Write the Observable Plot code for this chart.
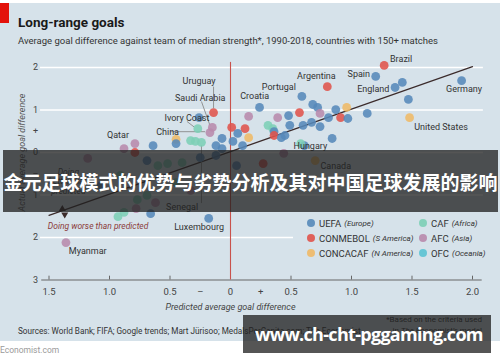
<!DOCTYPE html>
<html><head><meta charset="utf-8">
<script src="https://cdn.jsdelivr.net/npm/d3@7"></script>
<script src="https://cdn.jsdelivr.net/npm/@observablehq/plot@0.6"></script>
<style>
body{margin:0;background:#fff;}
#wrap{position:relative;width:500px;height:362px;overflow:hidden;font-family:Roboto,"Open Sans",sans-serif;color:#222;}
#bg{position:absolute;left:0;top:3px;width:500px;height:338px;background:#d6e2ea;}
#chart{position:absolute;left:0;top:0;}
.abs{position:absolute;line-height:1;white-space:nowrap;}
#redbox{position:absolute;left:0;top:3px;width:9px;height:20px;background:#e3120b;}
#title{left:18px;top:15.7px;font-size:13.5px;font-weight:bold;color:#1a1a1a;}
#subtitle{left:18px;top:36px;font-size:9.5px;color:#333;}
#sources{left:18px;top:327.3px;font-size:8.2px;color:#333;}
.foot{right:18px;font-size:8px;color:#333;text-align:right;}
#econ{left:0;top:345.9px;font-size:8.5px;color:#9a9a9a;}
#legendbox{position:absolute;left:293px;top:213px;width:195px;height:50px;background:#d6e2ea;}
.leg{position:absolute;height:12px;display:flex;align-items:center;font-size:9.5px;color:#333;white-space:nowrap;}
.leg i{font-size:8px;margin-left:3px;}
.sw{width:8px;height:8px;border-radius:50%;margin-right:4px;opacity:.9;}
.band{position:absolute;background:rgba(32,32,32,0.76);color:#fff;font-weight:bold;display:flex;align-items:center;white-space:nowrap;}
#band1{left:3px;top:150px;width:495px;height:62px;justify-content:center;font-family:"Noto Sans CJK SC",sans-serif;font-size:19px;}
#band2{left:243px;top:315px;width:248px;height:38px;font-family:"Open Sans",sans-serif;font-size:18px;letter-spacing:-0.7px;padding-left:12px;box-sizing:border-box;}
</style></head><body>
<div id="wrap">
  <div id="bg"></div>
  <div id="redbox"></div>
  <div id="chart"></div>
  <div class="abs" id="title">Long-range goals</div>
  <div class="abs" id="subtitle">Average goal difference against team of median strength*, 1990-2018, countries with 150+ matches</div>
  <div id="legendbox"></div>
  <div id="legend"></div>
  <div class="abs" id="sources">Sources: World Bank; FIFA; Google trends; Mart Jürisoo; MedalsPerCapita.com; The Economist</div>
  <div class="abs foot" style="top:316.3px">*Based on the criteria used</div>
  <div class="abs foot" style="top:327.3px">in <i>The Economist’s</i> model</div>
  <div class="abs" id="econ">Economist.com</div>
  <div class="band" id="band1">金元足球模式的优势与劣势分析及其对中国足球发展的影响</div>
  <div class="band" id="band2">www.ch-cht-pggaming.com</div>
</div>
<script>
// ---- Data ----
const conferences = ["UEFA","CONMEBOL","CONCACAF","CAF","AFC","OFC"];
const confRegions = ["Europe","S America","N America","Africa","Asia","Oceania"];
const confColors = ["#5689b9","#e0534b","#efb967","#7dcfb6","#b88aac","#5bc3d3"];

const teamNames = ["Brazil","Spain","England","","Germany","Argentina","Portugal","Croatia","","United States",
 "Uruguay","Ivory Coast","","Saudi Arabia","China","Hungary","","Canada","Myanmar","Luxembourg",
 "","","","","","","","","","",
 "","","","","","","","","","",
 "","","","","","","","","","",
 "","","","Senegal","","","","","Qatar","",
 "","","","","","","","","","",
 "","","","","","","","","","",
 "","",""];
const predicted = [1.27,1.20,1.36,1.42,1.91,0.80,0.59,0.24,1.47,1.48,
 -0.14,-0.27,-0.26,-0.15,-0.17,0.61,0.58,0.70,-1.36,-0.18,
 0.68,0.72,0.74,0.87,0.96,0.91,0.97,1.13,0.57,0.39,
 0.48,0.15,0.01,0.12,0.15,0.06,0.02,0.10,0.31,0.35,
 0.36,0.36,0.42,0.45,0.49,0.60,0.67,0.81,0.74,0.84,
 -0.07,-0.33,-0.29,-0.24,-0.45,-0.45,-0.64,-0.79,-0.88,-0.79,
 -0.12,-0.07,-1.18,-0.69,-0.60,-0.52,-0.40,-0.25,-0.12,0.27,
 0.44,0.05,-0.77,-0.69,-0.62,-1.07,-0.91,-0.45,-0.33,-0.78,
 -0.88,-0.93,-0.66];
const actual = [2.05,1.79,1.53,1.65,1.69,1.55,1.32,1.06,1.25,0.82,
 0.94,0.56,0.82,0.59,0.47,0.16,0.21,-0.19,-2.12,-1.55,
 1.13,1.06,0.92,1.01,1.06,0.82,0.80,0.92,0.94,0.82,
 0.87,0.85,0.59,0.56,0.35,0.45,0.26,0.16,0.64,0.56,
 0.49,0.40,0.35,0.40,0.64,0.64,0.71,0.82,0.61,0.33,
 0.09,0.28,0.26,0.24,0.31,0.21,0.16,0.21,0.09,0.00,
 0.16,0.33,-0.14,-0.19,-0.31,-0.26,-0.24,-0.12,-0.07,-0.26,
 -0.02,-0.31,-1.11,-1.01,-1.18,-0.78,-0.54,-0.71,-0.89,-1.32,
 -1.41,-1.51,-1.44];
const confOf = ["CONMEBOL","UEFA","UEFA","UEFA","UEFA","CONMEBOL","UEFA","UEFA","UEFA","CONCACAF",
 "CONMEBOL","CAF","UEFA","AFC","AFC","UEFA","CAF","CONCACAF","AFC","UEFA",
 "UEFA","UEFA","AFC","UEFA","CONCACAF","CONMEBOL","UEFA","UEFA","CONMEBOL","AFC",
 "UEFA","AFC","CONMEBOL","CONMEBOL","CONCACAF","UEFA","UEFA","UEFA","CAF","CAF",
 "UEFA","CONMEBOL","UEFA","UEFA","UEFA","UEFA","UEFA","UEFA","UEFA","UEFA",
 "UEFA","CAF","CAF","CAF","CONCACAF","UEFA","UEFA","AFC","AFC","CONMEBOL",
 "UEFA","UEFA","AFC","UEFA","CAF","CAF","CAF","UEFA","UEFA","CONMEBOL",
 "AFC","UEFA","CAF","CAF","AFC","UEFA","CAF","CAF","AFC","AFC",
 "CAF","CAF","UEFA"];

const labelText = ["Brazil","Spain","Argentina","Portugal","England","Germany","Croatia","United States","Uruguay",
 "Saudi Arabia","Ivory Coast","China","Qatar","Hungary","Canada","Senegal","Luxembourg","Myanmar"];
const labelX = [1.41,1.06,0.71,0.40,1.18,1.93,0.20,1.74,-0.26,-0.25,-0.36,-0.52,-0.93,0.66,0.87,-0.40,-0.26,-1.18];
const labelY = [2.19,1.84,1.79,1.55,1.48,1.48,1.32,0.59,1.69,1.27,0.82,0.49,0.40,0.16,-0.31,-1.29,-1.76,-2.31];
const labelAnchor = ["middle","middle","middle","middle","middle","middle","middle","middle","middle",
 "end","end","end","middle","start","middle","middle","middle","middle"];

const leaderX1 = [-0.14,-0.24,-0.36,-0.50,-0.24];
const leaderY1 = [1.55,1.20,0.73,0.49,-1.19];
const leaderX2 = [-0.14,-0.17,-0.30,-0.21,-0.24];
const leaderY2 = [1.04,0.64,0.60,0.49,0.17];

const trendX = [-1.5, 2.0];
const trendY = [-1.48, 2.02];

const gridY = [2,1,0,-1,-2];
const yTickVals = [2,1,0.5,0,-0.5,-1,-2,-3];
const yTickLabels = ["2","1","+","0","–","1","2","3"];
const xTickVals = [-1.5,-1,-0.5,-0.25,0,0.25,0.5,1,1.5,2];
const xTickLabels = ["1.5","1.0","0.5","–","0","+","0.5","1.0","1.5","2.0"];
const xTickMarks = [-1.5,-1,-0.5,0.5,1,1.5,2];

// ---- Tables ----
const teams = teamNames.map((n,i)=>({name:n,x:predicted[i],y:actual[i],conf:confOf[i]}));
const labels = labelText.map((t,i)=>({t,x:labelX[i],y:labelY[i],a:labelAnchor[i]}));
const leaders = leaderX1.map((v,i)=>({x1:v,y1:leaderY1[i],x2:leaderX2[i],y2:leaderY2[i]}));
const trend = trendX.map((v,i)=>({x:v,y:trendY[i]}));
const yt = yTickVals.map((v,i)=>({v,l:yTickLabels[i]}));
const xt = xTickVals.map((v,i)=>({v,l:xTickLabels[i]}));

const font = "Roboto, 'Open Sans', sans-serif";
const chart = Plot.plot({
  width: 500, height: 362,
  x: {domain: [-1.5, 2], range: [48.5, 472], axis: null},
  y: {domain: [-3, 2], range: [279.5, 67], axis: null},
  color: {domain: conferences, range: confColors},
  style: {background: "transparent", fontFamily: font, overflow: "visible"},
  marks: [
    Plot.ruleY(gridY, {y: d=>d, x1: -1.57, x2: 2.09, stroke: "#fff", strokeWidth: 1.3}),
    Plot.ruleY([-3], {y: d=>d, x1: -1.56, x2: 2.08, stroke: "#666", strokeWidth: 1}),
    Plot.ruleX(xTickMarks, {x: d=>d, y1: -3, y2: -2.91, stroke: "#666"}),
    Plot.ruleX([0], {x: d=>d, y1: -3, y2: 2.12, stroke: "#c9524c", strokeWidth: 1.1}),
    Plot.line(trend, {x: "x", y: "y", stroke: "#3b2b2b", strokeWidth: 1.2}),
    Plot.link(leaders, {x1:"x1", y1:"y1", x2:"x2", y2:"y2", stroke: "#8a8a8a", strokeWidth: 0.9}),
    Plot.dot(teams, {x: "x", y: "y", fill: "conf", r: 4.4, fillOpacity: 0.88}),
    Plot.dot([trend[0]], {x: d=>d.x + 0.11, y: d=>d.y + 0.15, symbol: "triangle", fill: "#3b2b2b", r: 2.6}),
    Plot.dot([trend[0]], {x: d=>d.x + 0.13, y: d=>d.y + 0.02, symbol: "triangle", rotate: 180, fill: "#3b2b2b", r: 2.6}),
    Plot.text(labels, {x: "x", y: "y", text: "t", textAnchor: "a", fontSize: 9, fill: "#333"}),
    Plot.text(yt, {x: -1.5, y: "v", text: "l", dx: -13.5, fontSize: 9, fill: "#444"}),
    Plot.text(xt, {x: "v", y: -3, text: "l", dy: 12, fontSize: 9.5, fill: "#444"}),
    Plot.text(["Predicted average goal difference"], {x: 0, y: -3, dy: 27, text: d=>d, fontSize: 9, fontStyle: "italic", fill: "#444"}),
    Plot.text(["Actual average goal difference"], {x: -1.5, y: 0, dx: -26.5, rotate: -90, text: d=>d, fontSize: 9, fontStyle: "italic", fill: "#555"}),
    Plot.text(["Doing worse than predicted"], {x: -1.51, y: -1.74, text: d=>d, textAnchor: "start", fontSize: 8.5, fontStyle: "italic", fill: "#8c3b3b"}),
    Plot.text(["Doing\nbetter than\npredicted"], {x: -1.34, y: -0.68, text: d=>d, fontSize: 8.5, fontStyle: "italic", fill: "#444", lineHeight: 1.1})
  ]
});
document.getElementById("chart").appendChild(chart);

// legend
const legend = document.getElementById("legend");
const rowY = [223, 238, 253];
conferences.forEach((c,i)=>{
  const col = i < 3 ? 0 : 1;
  const row = i % 3;
  const el = document.createElement("div");
  el.className = "leg";
  el.style.left = (col ? 419 : 307) + "px";
  el.style.top = (rowY[row] - 6) + "px";
  el.innerHTML = `<span class="sw" style="background:${confColors[i]}"></span>${c}<i>(${confRegions[i]})</i>`;
  legend.appendChild(el);
});
</script>
</body></html>
